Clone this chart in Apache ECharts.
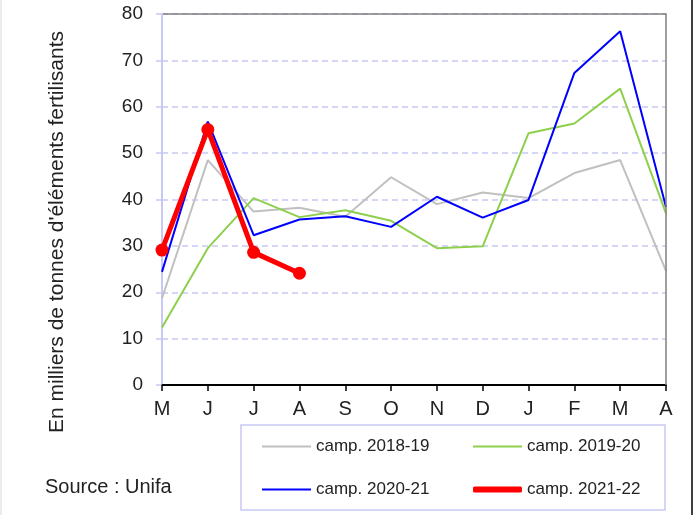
<!DOCTYPE html>
<html><head><meta charset="utf-8">
<script src="https://cdn.jsdelivr.net/npm/echarts@6/dist/echarts.min.js"></script>
<style>html,body{margin:0;padding:0;background:#fff}#c{width:696px;height:515px}</style>
</head><body><div id="c"></div>
<script>
const months = ['M','J','J','A','S','O','N','D','J','F','M','A'];
const s2018 = [18.7,48.5,37.4,38.2,36.3,44.8,39.0,41.5,40.3,45.7,48.5,24.6];
const s2019 = [12.4,29.5,40.3,36.2,37.7,35.4,29.5,29.9,54.3,56.4,63.9,37.0];
const s2020 = [24.4,56.8,32.3,35.7,36.4,34.1,40.6,36.1,39.9,67.3,76.3,38.4];
const s2021 = [29.1,55.1,28.6,24.1];
const names = ['camp. 2018-19','camp. 2019-20','camp. 2020-21','camp. 2021-22'];
const yTicks = {min:0,max:80,interval:10};
const font = 'Liberation Sans, Arial, sans-serif';
const chart = echarts.init(document.getElementById('c'));
function leg(name, left, top, h, icon){
  return {data:[{name:name, icon:icon}], left:left, top:top, orient:'horizontal', itemWidth:49, itemHeight:h, itemGap:6,
    textStyle:{fontFamily:font, fontSize:17, color:'#222'}, selectedMode:false, padding:0};
}
chart.setOption({
  animation:false,
  grid:{left:162, right:30, top:14, bottom:130, show:false},
  graphic:[
    {type:'rect', shape:{x:241, y:425, width:424, height:85}, style:{fill:'none', stroke:'#c8c8f4', lineWidth:1.5}},
    {type:'text', left:45, top:477, style:{text:'Source : Unifa', font:'20px '+font, fill:'#222'}},
    {type:'text', x:57, y:232, rotation:Math.PI/2, style:{text:"En milliers de tonnes d'éléments fertilisants", font:'21px '+font, fill:'#222', align:'center', verticalAlign:'middle'}},
    {type:'polyline', z:10, shape:{points:[[163,14],[666,14],[666,385]]}, style:{stroke:'#808080', lineWidth:1.5, fill:'none'}},
    {type:'line', shape:{x1:692, y1:0, x2:692, y2:515}, style:{stroke:'#000', lineWidth:1.5}},
    {type:'line', shape:{x1:1, y1:0, x2:1, y2:515}, style:{stroke:'#d8d8d8', lineWidth:1}}
  ],
  legend:[leg(names[0],262,438,2,'rect'), leg(names[1],473,438,2,'rect'), leg(names[2],262,481,2,'rect'), leg(names[3],473,481,6,'roundRect')],
  xAxis:{type:'category', data:months, boundaryGap:false,
    axisLine:{lineStyle:{color:'#000', width:2}},
    axisTick:{show:true, length:6, lineStyle:{color:'#000', width:1.5}, alignWithLabel:true},
    axisLabel:{fontFamily:font, fontSize:20, color:'#222', margin:14},
    splitLine:{show:false}},
  yAxis:{type:'value', min:yTicks.min, max:yTicks.max, interval:yTicks.interval,
    axisLine:{show:true, lineStyle:{color:'#c8c8f4', width:2}},
    axisTick:{show:true, length:6, lineStyle:{color:'#c8c8f4', width:1.5}},
    axisLabel:{fontFamily:font, fontSize:19, color:'#222', margin:19},
    splitLine:{show:true, lineStyle:{color:'#c8c8f4', type:[6,4], width:1.5}}},
  series:[
    {name:names[0], type:'line', data:s2018, symbol:'none', lineStyle:{color:'#c0c0c0', width:2}, itemStyle:{color:'#c0c0c0'}},
    {name:names[1], type:'line', data:s2019, symbol:'none', lineStyle:{color:'#8ed04c', width:2}, itemStyle:{color:'#8ed04c'}},
    {name:names[2], type:'line', data:s2020, symbol:'none', lineStyle:{color:'#0000ff', width:2}, itemStyle:{color:'#0000ff'}},
    {name:names[3], type:'line', data:s2021, symbol:'circle', symbolSize:13, lineStyle:{color:'#ff0000', width:5}, itemStyle:{color:'#ff0000'}, z:5}
  ]
});
</script></body></html>
